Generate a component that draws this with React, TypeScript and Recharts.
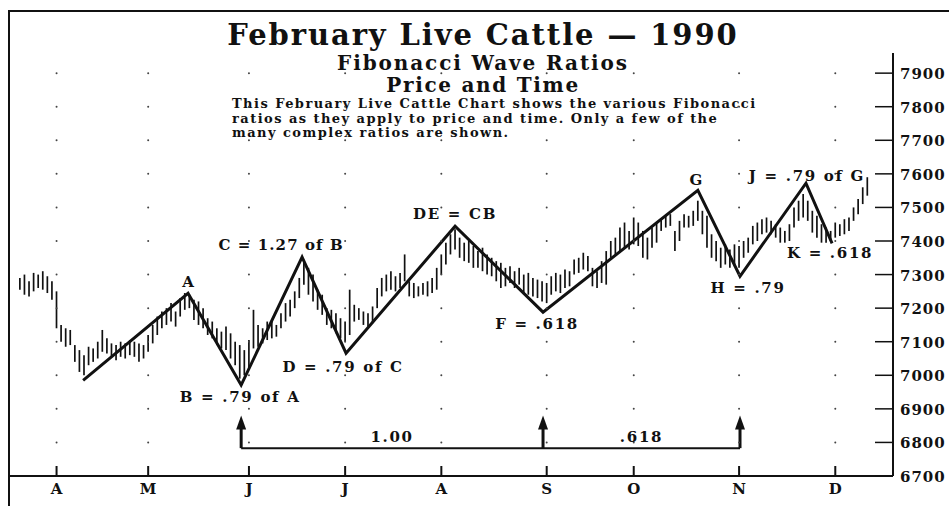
import { ComposedChart, Bar, Line, Scatter, XAxis, YAxis, ReferenceLine, LabelList } from 'recharts'

const FONT = '"DejaVu Serif", "Liberation Serif", serif'
const INK = '#111'

// daily price ranges (trading day index 0 = mid March 1990), price in points (7300 = 73.00)
const hi = [
  7290, 7300, 7280, 7305, 7300, 7310, 7295, 7280, 7250, 7150,
  7140, 7135, 7090, 7075, 7060, 7085, 7080, 7100, 7135, 7110,
  7095, 7090, 7100, 7095, 7105, 7100, 7095, 7090, 7120, 7150,
  7175, 7190, 7200, 7215, 7190, 7230, 7245, 7240, 7225, 7220,
  7200, 7170, 7160, 7140, 7130, 7145, 7125, 7100, 7090, 7075,
  7105, 7195, 7150, 7140, 7160, 7165, 7150, 7185, 7215, 7225,
  7250, 7290, 7340, 7320, 7300, 7255, 7240, 7200, 7195, 7185,
  7170, 7160, 7255, 7210, 7200, 7190, 7185, 7205, 7260, 7290,
  7300, 7310, 7295, 7305, 7360, 7280, 7275, 7265, 7275, 7280,
  7290, 7320, 7360, 7395, 7420, 7435, 7410, 7395, 7400, 7385,
  7370, 7380, 7360, 7350, 7340, 7335, 7320, 7325, 7310, 7320,
  7300, 7305, 7290, 7285, 7280, 7275, 7295, 7305, 7300, 7315,
  7310, 7345, 7350, 7365, 7355, 7320, 7310, 7340, 7370, 7400,
  7410, 7440, 7455, 7430, 7470, 7455, 7430, 7410, 7440, 7455,
  7465, 7475, 7480, 7430, 7460, 7480, 7475, 7490, 7520, 7490,
  7475, 7420, 7400, 7380, 7390, 7375, 7390, 7385, 7400, 7410,
  7445, 7455, 7465, 7470, 7460, 7450, 7440, 7430, 7450, 7500,
  7520, 7540, 7520, 7490, 7475, 7450, 7440, 7430, 7455, 7450,
  7465, 7470, 7500, 7525, 7560, 7590,
]
const lo = [
  7255, 7240, 7235, 7250, 7260, 7255, 7245, 7225, 7140, 7100,
  7085, 7090, 7040, 7010, 7000, 7030, 7040, 7050, 7070, 7065,
  7055, 7045, 7055, 7050, 7060, 7055, 7040, 7050, 7070, 7095,
  7120, 7140, 7150, 7160, 7145, 7175, 7195, 7200, 7165, 7150,
  7140, 7120, 7110, 7090, 7080, 7075, 7050, 7030, 6990, 7000,
  7020, 7080, 7085, 7095, 7105, 7110, 7115, 7140, 7160, 7175,
  7200, 7230, 7270, 7240, 7220, 7195, 7180, 7150, 7140, 7125,
  7110, 7100, 7120, 7160, 7165, 7150, 7145, 7155, 7200, 7235,
  7250, 7255, 7250, 7260, 7280, 7235, 7230, 7235, 7240, 7235,
  7245, 7255, 7300, 7330, 7360, 7375, 7350, 7340, 7335, 7320,
  7320, 7310, 7300, 7295, 7280, 7260, 7265, 7275, 7260, 7270,
  7245, 7240, 7235, 7230, 7220, 7215, 7240, 7250, 7245, 7260,
  7265, 7300, 7305, 7315, 7310, 7265, 7260, 7275, 7270, 7350,
  7360, 7370, 7380, 7375, 7390, 7385, 7350, 7345, 7380, 7395,
  7430, 7440, 7445, 7370, 7400, 7440, 7440, 7445, 7460, 7420,
  7380, 7350, 7340, 7320, 7330, 7320, 7325, 7320, 7350, 7365,
  7390, 7400, 7420, 7425, 7420, 7410, 7395, 7395, 7400, 7440,
  7460, 7470, 7460, 7425, 7410, 7395, 7395, 7400, 7410, 7415,
  7420, 7430, 7460, 7480, 7510, 7535,
]

const monthIdx = [8, 28, 50, 71, 92, 115, 134, 157, 178]
const monthNames = ['A', 'M', 'J', 'J', 'A', 'S', 'O', 'N', 'D']
const priceTicks = [6700, 6800, 6900, 7000, 7100, 7200, 7300, 7400, 7500, 7600, 7700, 7800, 7900]

// Elliott / Fibonacci wave turning points
const waveX = [13.8, 36.7, 48.3, 61.6, 71.2, 95, 114.2, 148, 157.2, 171.6, 177.3]
const waveY = [6985, 7244, 6971, 7352, 7066, 7444, 7188, 7551, 7295, 7572, 7393]
const waveText = ['', 'A', 'B = .79 of A', 'C = 1.27 of B', 'D = .79 of C', 'DE = CB', 'F = .618', 'G', 'H = .79', 'J = .79 of G', 'K = .618']

// time cycle arrows (B -> F -> H)
const timeX = [48.3, 114.2, 157.2]
const timeText = ['1.00', '.618']
const timeBase = 6783
const timeTip = 6880
const timeLabelY = 6815

const bars = hi.map((h, i) => ({ d: i, range: [lo[i], h] }))
const wave = waveX.map((d, i) => ({ d, v: waveY[i], name: waveText[i] }))
const gridDots = monthIdx.flatMap((d) => priceTicks.slice(1).map((v) => ({ d, v })))
const arrowTips = timeX.map((d) => ({ d, v: timeTip }))
const timeLabels = timeText.map((t, i) => ({ d: (timeX[i] + timeX[i + 1]) / 2, v: timeLabelY, t }))

const labelOffset: Record<string, [number, number]> = {
  'A': [1, -11],
  'B = .79 of A': [-1, 12],
  'C = 1.27 of B': [-21, -12],
  'D = .79 of C': [-3, 14],
  'DE = CB': [0, -12],
  'F = .618': [-6, 12],
  'G': [-1, -10],
  'H = .79': [8, 12],
  'J = .79 of G': [1, -7],
  'K = .618': [-2, 10],
}

const txt = { fontFamily: FONT, fontWeight: 'bold' as const, fill: INK }

const WaveLabel = (props: any) => {
  const { x, y, value } = props
  if (!value) return null
  const [dx, dy] = labelOffset[value] || [0, 0]
  return (
    <text x={x + dx} y={y + dy} textAnchor="middle" dominantBaseline="central" fontSize={15}
      letterSpacing={value === 'C = 1.27 of B' ? 1.1 : 1.7} {...txt}>{value}</text>
  )
}

const MonthTick = (props: any) => {
  const { x, y, payload } = props
  const i = monthIdx.indexOf(payload.value)
  return (
    <g>
      <line x1={x} x2={x} y1={y - 10} y2={y} stroke={INK} strokeWidth={2} />
      <text x={x} y={y + 18} textAnchor="middle" fontSize={15} {...txt}>
        {monthNames[i]}
      </text>
    </g>
  )
}

const PriceTick = (props: any) => {
  const { x, y, payload } = props
  return (
    <g>
      <line x1={x - 18} x2={x} y1={y} y2={y} stroke={INK} strokeWidth={1.5} />
      <text x={x + 7} y={y + 1} dominantBaseline="central" fontSize={15} letterSpacing={1} {...txt}>
        {payload.value}
      </text>
    </g>
  )
}

const PriceBar = (props: any) => {
  const { x, y, width, height } = props
  const cx = x + width / 2
  return <line x1={cx} x2={cx} y1={y} y2={y + height} stroke={INK} strokeWidth={1.7} />
}

const GridDot = (props: any) => <circle cx={props.cx} cy={props.cy} r={1} fill="#444" />

const ArrowHead = (props: any) => {
  const { cx, cy } = props
  return <polygon points={`${cx},${cy} ${cx - 5},${cy + 14} ${cx + 5},${cy + 14}`} fill={INK} />
}

const TimeText = (props: any) => (
  <text x={props.cx} y={props.cy} textAnchor="middle" dominantBaseline="central" fontSize={15}
    letterSpacing={1.7} {...txt}>{props.payload.t}</text>
)

export default function App() {
  return (
    <div style={{ position: 'absolute', left: 0, top: 0, width: 949, height: 506, background: '#fff', overflow: 'hidden' }}>
      <div style={{ position: 'absolute', left: 8, top: 10, width: 1000, height: 600, borderLeft: '2px solid #111', borderTop: '2px solid #111' }} />
      <div style={{ position: 'absolute', left: 0, width: 966, top: 18, textAlign: 'center', fontFamily: FONT, fontWeight: 'bold', color: INK }}>
        <div style={{ fontSize: 29, lineHeight: '34px', letterSpacing: 1.9 }}>February Live Cattle — 1990</div>
        <div style={{ fontSize: 20, lineHeight: '22px', letterSpacing: 1.9 }}>Fibonacci Wave Ratios</div>
        <div style={{ fontSize: 20, lineHeight: '22px', letterSpacing: 1.7 }}>Price and Time</div>
      </div>
      <div style={{ position: 'absolute', left: 232, top: 97, fontFamily: FONT, fontWeight: 'bold', fontSize: 13, lineHeight: '14.5px', letterSpacing: 1.45, color: INK }}>
        <div>This February Live Cattle Chart shows the various Fibonacci</div>
        <div>ratios as they apply to price and time. Only a few of the</div>
        <div>many complex ratios are shown.</div>
      </div>
      <div style={{ position: 'absolute', left: 0, top: 0 }}>
        <ComposedChart width={949} height={506} data={bars} margin={{ top: 53, right: 0, bottom: 0, left: 8 }}>
          <XAxis dataKey="d" type="number" domain={[-2.6, 190.6]} allowDataOverflow ticks={monthIdx} interval={0}
            tick={<MonthTick />} tickLine={false} tickSize={0} tickMargin={0} height={30}
            axisLine={{ stroke: INK, strokeWidth: 2 }} />
          <YAxis orientation="right" type="number" domain={[6700, 7960]} allowDataOverflow ticks={priceTicks} interval={0}
            tick={<PriceTick />} tickLine={false} tickSize={0} tickMargin={0} width={56}
            axisLine={{ stroke: INK, strokeWidth: 2 }} />
          <Scatter data={gridDots} dataKey="v" shape={<GridDot />} isAnimationActive={false} />
          <Bar dataKey="range" barSize={2} fill={INK} shape={<PriceBar />} isAnimationActive={false} />
          <Line data={wave} dataKey="v" type="linear" stroke={INK} strokeWidth={3} dot={false} isAnimationActive={false}>
            <LabelList dataKey="name" content={<WaveLabel />} />
          </Line>
          <ReferenceLine segment={[{ x: timeX[0], y: timeBase }, { x: timeX[2], y: timeBase }]} stroke={INK} strokeWidth={2} ifOverflow="visible" />
          {timeX.map((x) => (
            <ReferenceLine key={x} segment={[{ x, y: timeBase }, { x, y: timeTip - 20 }]} stroke={INK} strokeWidth={3} ifOverflow="visible" />
          ))}
          <Scatter data={arrowTips} dataKey="v" shape={<ArrowHead />} isAnimationActive={false} />
          <Scatter data={timeLabels} dataKey="v" shape={<TimeText />} isAnimationActive={false} />
        </ComposedChart>
      </div>
    </div>
  )
}
